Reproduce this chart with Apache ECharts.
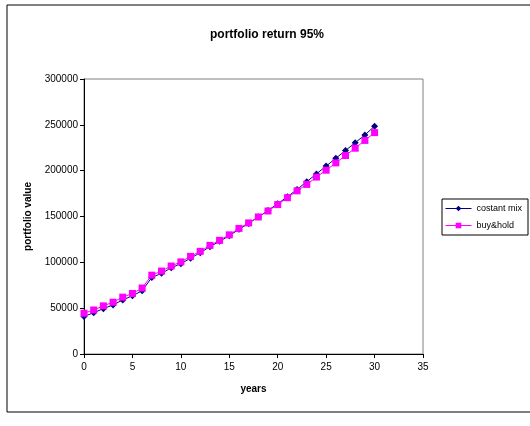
<!DOCTYPE html>
<html>
<head>
<meta charset="utf-8">
<script src="https://cdn.jsdelivr.net/npm/echarts@6/dist/echarts.min.js"></script>
<style>
  html, body { margin: 0; padding: 0; background: #fff; }
  #chart { width: 530px; height: 426px; }
</style>
</head>
<body>
<div id="chart"></div>
<script>
// years 0..30
const years = [0, 1, 2, 3, 4, 5, 6, 7, 8, 9, 10, 11, 12, 13, 14, 15, 16, 17, 18, 19, 20,
  21, 22, 23, 24, 25, 26, 27, 28, 29, 30];
// constant mix (navy diamonds)
const constantMix = [41000, 45000, 49500, 53500, 59000, 63500, 69000, 83500, 88000, 94000, 98500,
  104500, 110500, 117000, 123000, 129000, 136000, 142500, 149500, 156500, 164000,
  171500, 179500, 188000, 196500, 205000, 213500, 222000, 230500, 239000, 248500];
// buy & hold (magenta squares)
const buyHold = [44500, 48000, 52500, 56500, 62000, 66000, 72000, 86000, 90500, 96000, 100500,
  106500, 112000, 118500, 124000, 130000, 137000, 143000, 149500, 156000, 163000,
  170500, 178000, 185000, 193000, 200500, 208500, 216500, 224500, 233000, 241500];

const font = 'Liberation Sans, Arial, sans-serif';
const chart = echarts.init(document.getElementById('chart'), null, { renderer: 'canvas' });

const pairs = (ys) => years.map((x, i) => [x, ys[i]]);

chart.setOption({
  animation: false,
  backgroundColor: '#fff',
  graphic: [{
    type: 'rect',
    shape: { x: 7, y: 5, width: 530, height: 407 },
    style: { fill: 'none', stroke: '#000', lineWidth: 1 },
    silent: true
  }],
  title: {
    text: 'portfolio return 95%',
    left: 262, top: 24, textAlign: 'center',
    textStyle: { fontFamily: font, fontSize: 12, fontWeight: 'bold', color: '#000' }
  },
  legend: {
    orient: 'vertical',
    left: 442, top: 199,
    data: ['costant mix', 'buy&hold'],
    itemWidth: 26, itemHeight: 7, itemGap: 8,
    padding: [5, 6, 5, 3],
    borderColor: '#000', borderWidth: 1,
    lineStyle: { width: 1 },
    textStyle: { fontFamily: font, fontSize: 9, color: '#000' }
  },
  grid: {
    left: 84, top: 79, right: 107, bottom: 72,
    show: true, borderColor: '#808080', borderWidth: 1,
    containLabel: false
  },
  xAxis: {
    type: 'value', min: 0, max: 35, interval: 5,
    name: 'years', nameLocation: 'middle', nameGap: 30,
    nameTextStyle: { fontFamily: font, fontSize: 10, fontWeight: 'bold', color: '#000' },
    axisLine: { lineStyle: { color: '#000' } },
    axisTick: { show: true, length: 4, lineStyle: { color: '#000' } },
    axisLabel: { fontFamily: font, fontSize: 10, color: '#000', margin: 8 },
    splitLine: { show: false }
  },
  yAxis: {
    type: 'value', min: 0, max: 300000, interval: 50000,
    name: 'portfolio value', nameLocation: 'middle', nameGap: 49, nameRotate: 90,
    nameTextStyle: { fontFamily: font, fontSize: 10, fontWeight: 'bold', color: '#000' },
    axisLine: { show: true, lineStyle: { color: '#000' } },
    axisTick: { show: true, length: 4, lineStyle: { color: '#000' } },
    axisLabel: { fontFamily: font, fontSize: 10, color: '#000', margin: 6, formatter: (v) => String(v) },
    splitLine: { show: false }
  },
  series: [
    {
      name: 'costant mix', type: 'line',
      data: pairs(constantMix),
      symbol: 'diamond', symbolSize: 7,
      lineStyle: { color: '#000080', width: 1 },
      itemStyle: { color: '#000080' }
    },
    {
      name: 'buy&hold', type: 'line',
      data: pairs(buyHold),
      symbol: 'rect', symbolSize: 7,
      lineStyle: { color: '#FF00FF', width: 1 },
      itemStyle: { color: '#FF00FF' }
    }
  ]
});
</script>
</body>
</html>
